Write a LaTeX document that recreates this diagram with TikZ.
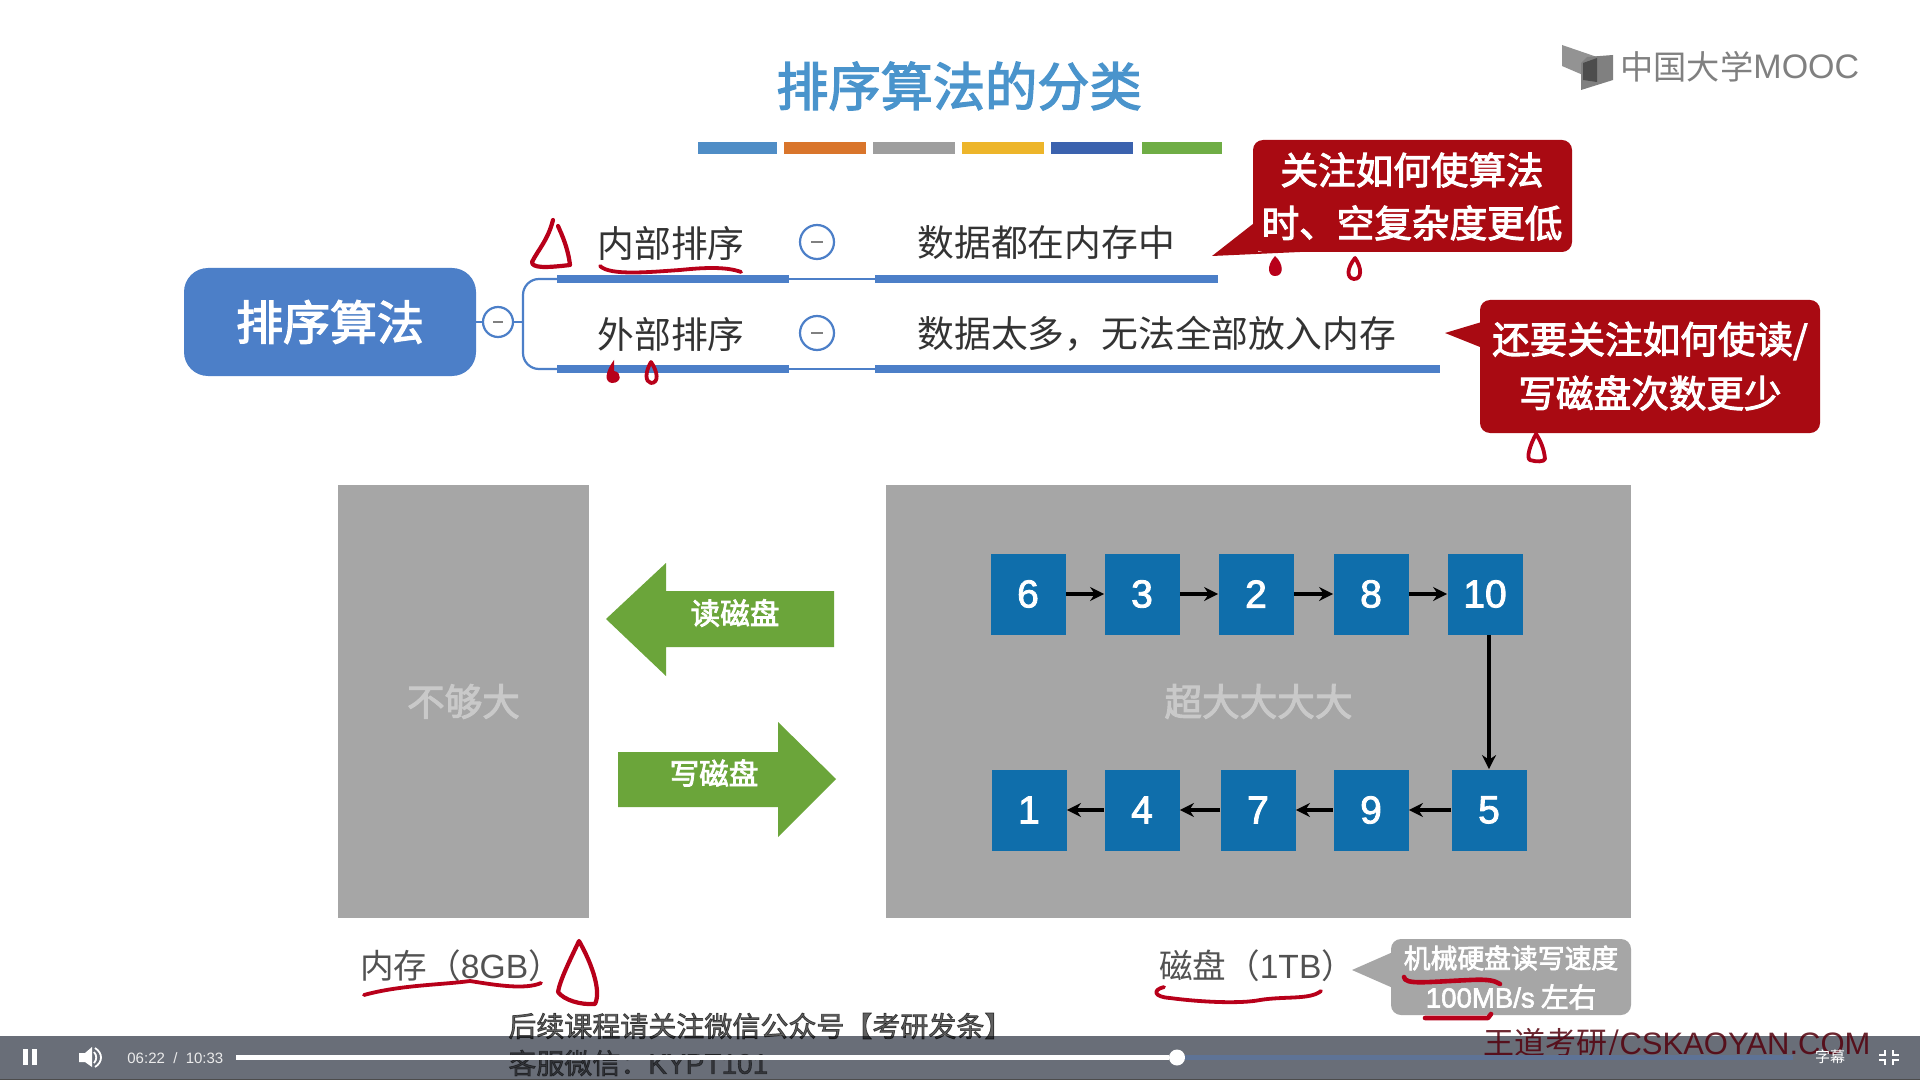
\documentclass[tikz,border=0pt]{standalone}
\usepackage{fontspec}
\setmainfont{Noto Sans CJK SC}
\newfontfamily\semi[FakeBold=2.6]{Noto Sans CJK SC}
\newfontfamily\lat{Liberation Sans}
\newfontfamily\latsemi[FakeBold=2.2]{Liberation Sans}
\usetikzlibrary{arrows.meta,positioning}
\definecolor{tblue}{HTML}{4A94CC}
\definecolor{mblue}{HTML}{4C7FC8}
\definecolor{sqblue}{HTML}{0F6EAB}
\definecolor{cred}{HTML}{A90A12}
\definecolor{pen}{HTML}{B8001A}
\definecolor{gboxc}{HTML}{A6A6A6}
\definecolor{lightgt}{HTML}{C9C9C9}
\definecolor{garrow}{HTML}{6BA53A}
\definecolor{barc}{HTML}{696E78}
\definecolor{trackc}{HTML}{5E7396}
\definecolor{txtc}{HTML}{333333}
\definecolor{logoc}{HTML}{808080}
\tikzset{
  x=0.5pt,y=-0.5pt,
  txt/.style={inner sep=0pt,text=txtc,font=\fontsize{18.4}{22}\selectfont},
  minus/.style={circle,draw=mblue,line width=1.1pt,fill=white,minimum size=17pt,inner sep=0pt,text=gray},
  bar/.style={line width=4.2pt,mblue},
  thin/.style={line width=1.1pt,mblue},
  sq/.style={fill=sqblue,text=white,minimum width=37.5pt,minimum height=40.5pt,inner sep=0pt,font=\latsemi\fontsize{19.5}{24}\selectfont},
  link/.style={-{Stealth[length=7pt,width=7pt]},line width=1.6pt,black},
  pstroke/.style={pen,line width=1.9pt,line cap=round,line join=round},
  redbox/.style={fill=cred,rounded corners=5pt,inner sep=0pt},
  whitebold/.style={inner sep=0pt,text=white,font=\semi\fontsize{18.8}{22}\selectfont},
  ribbon/.style={line width=2.6pt,line cap=butt},
}
\begin{document}
\begin{tikzpicture}
\useasboundingbox (0,0) rectangle (1920,1080);
\fill[white] (0,0) rectangle (1920,1080);
% title + colour bars
\node[inner sep=0pt,text=tblue,font=\semi\fontsize{26.1}{30}\selectfont] (title) at (959,86) {排序算法的分类};
\foreach \a/\b/\c in {698/777/4F8DC6,784/866/D9752B,873/955/9E9E9E,962/1044/EDB52A,1051/1133/3B62AE,1142/1222/6FAD45}{
  \definecolor{tmp}{HTML}{\c}
  \fill[tmp] (\a,142) rectangle (\b,154);
}
% logo
\fill[logoc!85] (1562,45) -- (1597,57) -- (1583,65) -- (1583,75) -- (1562,66) -- cycle;
\fill[logoc] (1587,57) -- (1613,55) -- (1613,80) -- (1581,90) -- (1581,63) -- cycle;
\fill[logoc!60!black] (1583,63) -- (1597,58) -- (1597,82) -- (1583,80) -- cycle;
\node[anchor=west,inner sep=0pt,text=logoc,font=\fontsize{16.6}{18}\selectfont] (logo) at (1620,67) {中国大学};
\node[anchor=west,inner sep=0pt,text=logoc,font=\lat\fontsize{17}{20}\selectfont] (mooc) at (1753,67) {MOOC};
% root
\node[fill=mblue,rounded corners=12pt,minimum width=146pt,minimum height=54pt,inner sep=0pt,text=white,font=\semi\fontsize{23.5}{28}\selectfont] (root) at (330,322) {排序算法};
\coordinate (rootr) at (476,322);
\node[minus,minimum size=15pt] (m0) at (498,322) {\rule{5pt}{0.7pt}};
\draw[thin] (rootr) -- (m0);
\coordinate (b1) at (557,279);
\coordinate (b2) at (557,369);
\draw[thin,rounded corners=8pt] (b1) -- (523,279) -- (523,369) -- (b2);
\draw[thin] (m0) -- (523,322);
% branches
\coordinate (a1) at (789,279);
\coordinate (c1) at (875,279);
\coordinate (d1) at (1218,279);
\coordinate (a2) at (789,369);
\coordinate (c2) at (875,369);
\coordinate (d2) at (1440,369);
\draw[bar] (b1) -- (a1);
\draw[thin] (a1) -- (c1);
\draw[bar] (c1) -- (d1);
\draw[bar] (b2) -- (a2);
\draw[thin] (a2) -- (c2);
\draw[bar] (c2) -- (d2);
\node[txt] (n1) at (671,243) {内部排序};
\node[txt] (n2) at (671,334) {外部排序};
\node[minus] (m1) at (817,242) {\rule{6pt}{0.7pt}};
\node[minus] (m2) at (817,333) {\rule{6pt}{0.7pt}};
\node[txt,anchor=west] (t1) at (917,243) {数据都在内存中};
\node[txt,anchor=west] (t2) at (917,334) {数据太多，无法全部放入内存};
% red callouts
\fill[cred] (1258,220) -- (1212,256) -- (1300,252) -- (1258,252) -- cycle;
\node[redbox,minimum width=159.5pt,minimum height=56pt] (r1) at (1412.5,196) {};
\node[whitebold] (r1a) at (1412,170) {关注如何使算法};
\node[whitebold] (r1b) at (1412,223) {时、空复杂度更低};
\fill[cred] (1485,321) -- (1445,333) -- (1485,349) -- cycle;
\node[redbox,minimum width=170pt,minimum height=66.5pt] (r2) at (1650,366.5) {};
\node[whitebold] (r2a) at (1650,341) {还要关注如何使读/};
\node[whitebold] (r2b) at (1650,393) {写磁盘次数更少};
% gray blocks
\node[fill=gboxc,minimum width=125.5pt,minimum height=216.5pt,inner sep=0pt,text=lightgt,font=\semi\fontsize{18.8}{22}\selectfont] (mem) at (463.5,701.5) {不够大};
\node[fill=gboxc,minimum width=372.5pt,minimum height=216.5pt,inner sep=0pt,text=lightgt,font=\semi\fontsize{18.8}{22}\selectfont] (disk) at (1258.5,701.5) {超大大大大};
% squares
\node[sq] (s6) at (1028,594) {6};
\node[sq] (s3) at (1142,594) {3};
\node[sq] (s2) at (1256,594) {2};
\node[sq] (s8) at (1371,594) {8};
\node[sq] (s10) at (1485,594) {10};
\node[sq] (s5) at (1489,810) {5};
\node[sq] (s9) at (1371,810) {9};
\node[sq] (s7) at (1258,810) {7};
\node[sq] (s4) at (1142,810) {4};
\node[sq] (s1) at (1029,810) {1};
\draw[link] (s6) -- (s3);
\draw[link] (s3) -- (s2);
\draw[link] (s2) -- (s8);
\draw[link] (s8) -- (s10);
\draw[link] (s10.south -| s5) -- (s5);
\draw[link] (s5) -- (s9);
\draw[link] (s9) -- (s7);
\draw[link] (s7) -- (s4);
\draw[link] (s4) -- (s1);
% green arrows
\fill[garrow] (606,619) -- (666,563) -- (666,591) -- (834,591) -- (834,647) -- (666,647) -- (666,676) -- cycle;
\node[inner sep=0pt,text=white,font=\semi\fontsize{14.8}{18}\selectfont] (rd) at (735,613) {读磁盘};
\fill[garrow] (836,779) -- (778,722) -- (778,752) -- (618,752) -- (618,807) -- (778,807) -- (778,837) -- cycle;
\node[inner sep=0pt,text=white,font=\semi\fontsize{14.8}{18}\selectfont] (wr) at (714,773) {写磁盘};
% bottom labels
\node[inner sep=0pt,text=txtc!85,font=\fontsize{16.8}{20}\selectfont] (lm) at (461,966) {内存（{\lat 8GB}）};
\node[inner sep=0pt,text=txtc!85,font=\fontsize{16.8}{20}\selectfont] (ld) at (1257,966) {磁盘（{\lat 1TB}）};
\fill[gboxc] (1393,952) -- (1352,970) -- (1393,988) -- cycle;
\node[fill=gboxc,rounded corners=5pt,minimum width=120pt,minimum height=38pt,inner sep=0pt] (gc) at (1511,977) {};
\node[inner sep=0pt,text=white,font=\semi\fontsize{13.4}{16}\selectfont] (gc1) at (1511,958) {机械硬盘读写速度};
\node[inner sep=0pt,text=white,font=\semi\fontsize{13.8}{16}\selectfont] (gc2) at (1511,997) {{\latsemi 100MB/s} 左右};
% handwriting
\draw[pstroke,line width=2.1pt] (553,220) .. controls (548,240) and (538,250) .. (532,262) .. controls (532,268) and (545,268) .. (570,265) .. controls (568,248) and (562,235) .. (558,226);
\draw[pstroke] (600,266) .. controls (610,276) and (650,272) .. (680,270) .. controls (700,268) and (725,266) .. (741,272);
\fill[pen] (614,360) .. controls (605,372) and (604,382) .. (612,383) .. controls (622,383) and (622,372) .. (614,371) -- cycle;
\draw[pstroke] (651,362) .. controls (645,372) and (645,382) .. (651,383) .. controls (659,383) and (658,372) .. (651,362) -- cycle;
\fill[pen] (1275,256) .. controls (1266,266) and (1268,276) .. (1275,276) .. controls (1284,276) and (1284,264) .. (1275,256) -- cycle;
\draw[pstroke] (1355,258) .. controls (1347,268) and (1346,278) .. (1354,279) .. controls (1362,279) and (1362,268) .. (1355,258) -- cycle;
\draw[pstroke] (1536,434) .. controls (1530,445) and (1526,458) .. (1530,460) .. controls (1536,462) and (1544,462) .. (1545,459) .. controls (1544,448) and (1540,440) .. (1536,434) -- cycle;
\draw[pstroke,line width=2.1pt] (579,941) .. controls (570,960) and (560,980) .. (558,992) .. controls (564,1000) and (580,1005) .. (595,1004) .. controls (602,990) and (590,960) .. (579,941) -- cycle;
\draw[pstroke] (364,995) .. controls (400,985) and (440,985) .. (470,981) .. controls (495,985) and (525,990) .. (541,983);
\draw[pstroke] (1164,987) .. controls (1152,990) and (1154,997) .. (1170,998) .. controls (1200,1002) and (1240,1004) .. (1260,1000) .. controls (1285,996) and (1310,1000) .. (1321,991);
\draw[pstroke,line width=2.3pt] (1404,977) .. controls (1405,985) and (1425,982) .. (1470,980) .. controls (1490,979) and (1495,981) .. (1500,984);
\draw[pstroke,line width=2.3pt] (1425,1018) -- (1488,1018) -- (1491,1014);
% control bar
\fill[barc] (0,1036) rectangle (1920,1080);
\fill[black!70] (0,1079) rectangle (1920,1080);
% overlaid captions, under the player controls
\node[anchor=west,inner sep=0pt,text=black,opacity=0.62,font=\semi\fontsize{14}{15}\selectfont] (cap1) at (508,1026) {后续课程请关注微信公众号【考研发条】};
\node[anchor=west,inner sep=0pt,text=black,opacity=0.5,font=\semi\fontsize{14}{15}\selectfont] (cap2) at (508,1063) {客服微信：{\latsemi KYPT101}};
\node[anchor=west,inner sep=0pt,text=pen!45!black,opacity=0.85,font=\fontsize{15.5}{18}\selectfont] (wm) at (1483,1044) {王道考研/{\lat CSKAOYAN.COM}};
% controls
\fill[white] (23,1049) rectangle (28,1065);
\fill[white] (32,1049) rectangle (37,1065);
\fill[white] (79,1053) -- (85,1053) -- (92,1047) -- (92,1067) -- (85,1062) -- (79,1062) -- cycle;
\draw[white,line width=0.9pt] (94,1052) .. controls (97,1055) and (97,1060) .. (94,1063);
\draw[white,line width=0.9pt] (95,1048) .. controls (103,1053) and (103,1062) .. (95,1067);
\node[anchor=west,inner sep=0pt,text=white!92!black,font=\lat\fontsize{7.5}{9}\selectfont] (time) at (127,1058) {06:22 \ / \ 10:33};
\coordinate (p0) at (236,1057.5);
\node[circle,fill=white,minimum size=8pt,inner sep=0pt] (knob) at (1177,1057.5) {};
\coordinate (p1) at (1793,1057.5);
\draw[ribbon,trackc] (knob) -- (p1);
\draw[ribbon,white] (p0) -- (knob);
\node[inner sep=0pt,text=white,font=\fontsize{7.5}{9}\selectfont] (sub) at (1830,1057) {字幕};
\draw[white,line width=1.3pt] (1885,1050) -- (1885,1055) -- (1879,1055) (1893,1050) -- (1893,1055) -- (1899,1055) (1885,1065) -- (1885,1060) -- (1879,1060) (1893,1065) -- (1893,1060) -- (1899,1060);
\end{tikzpicture}
\end{document}
